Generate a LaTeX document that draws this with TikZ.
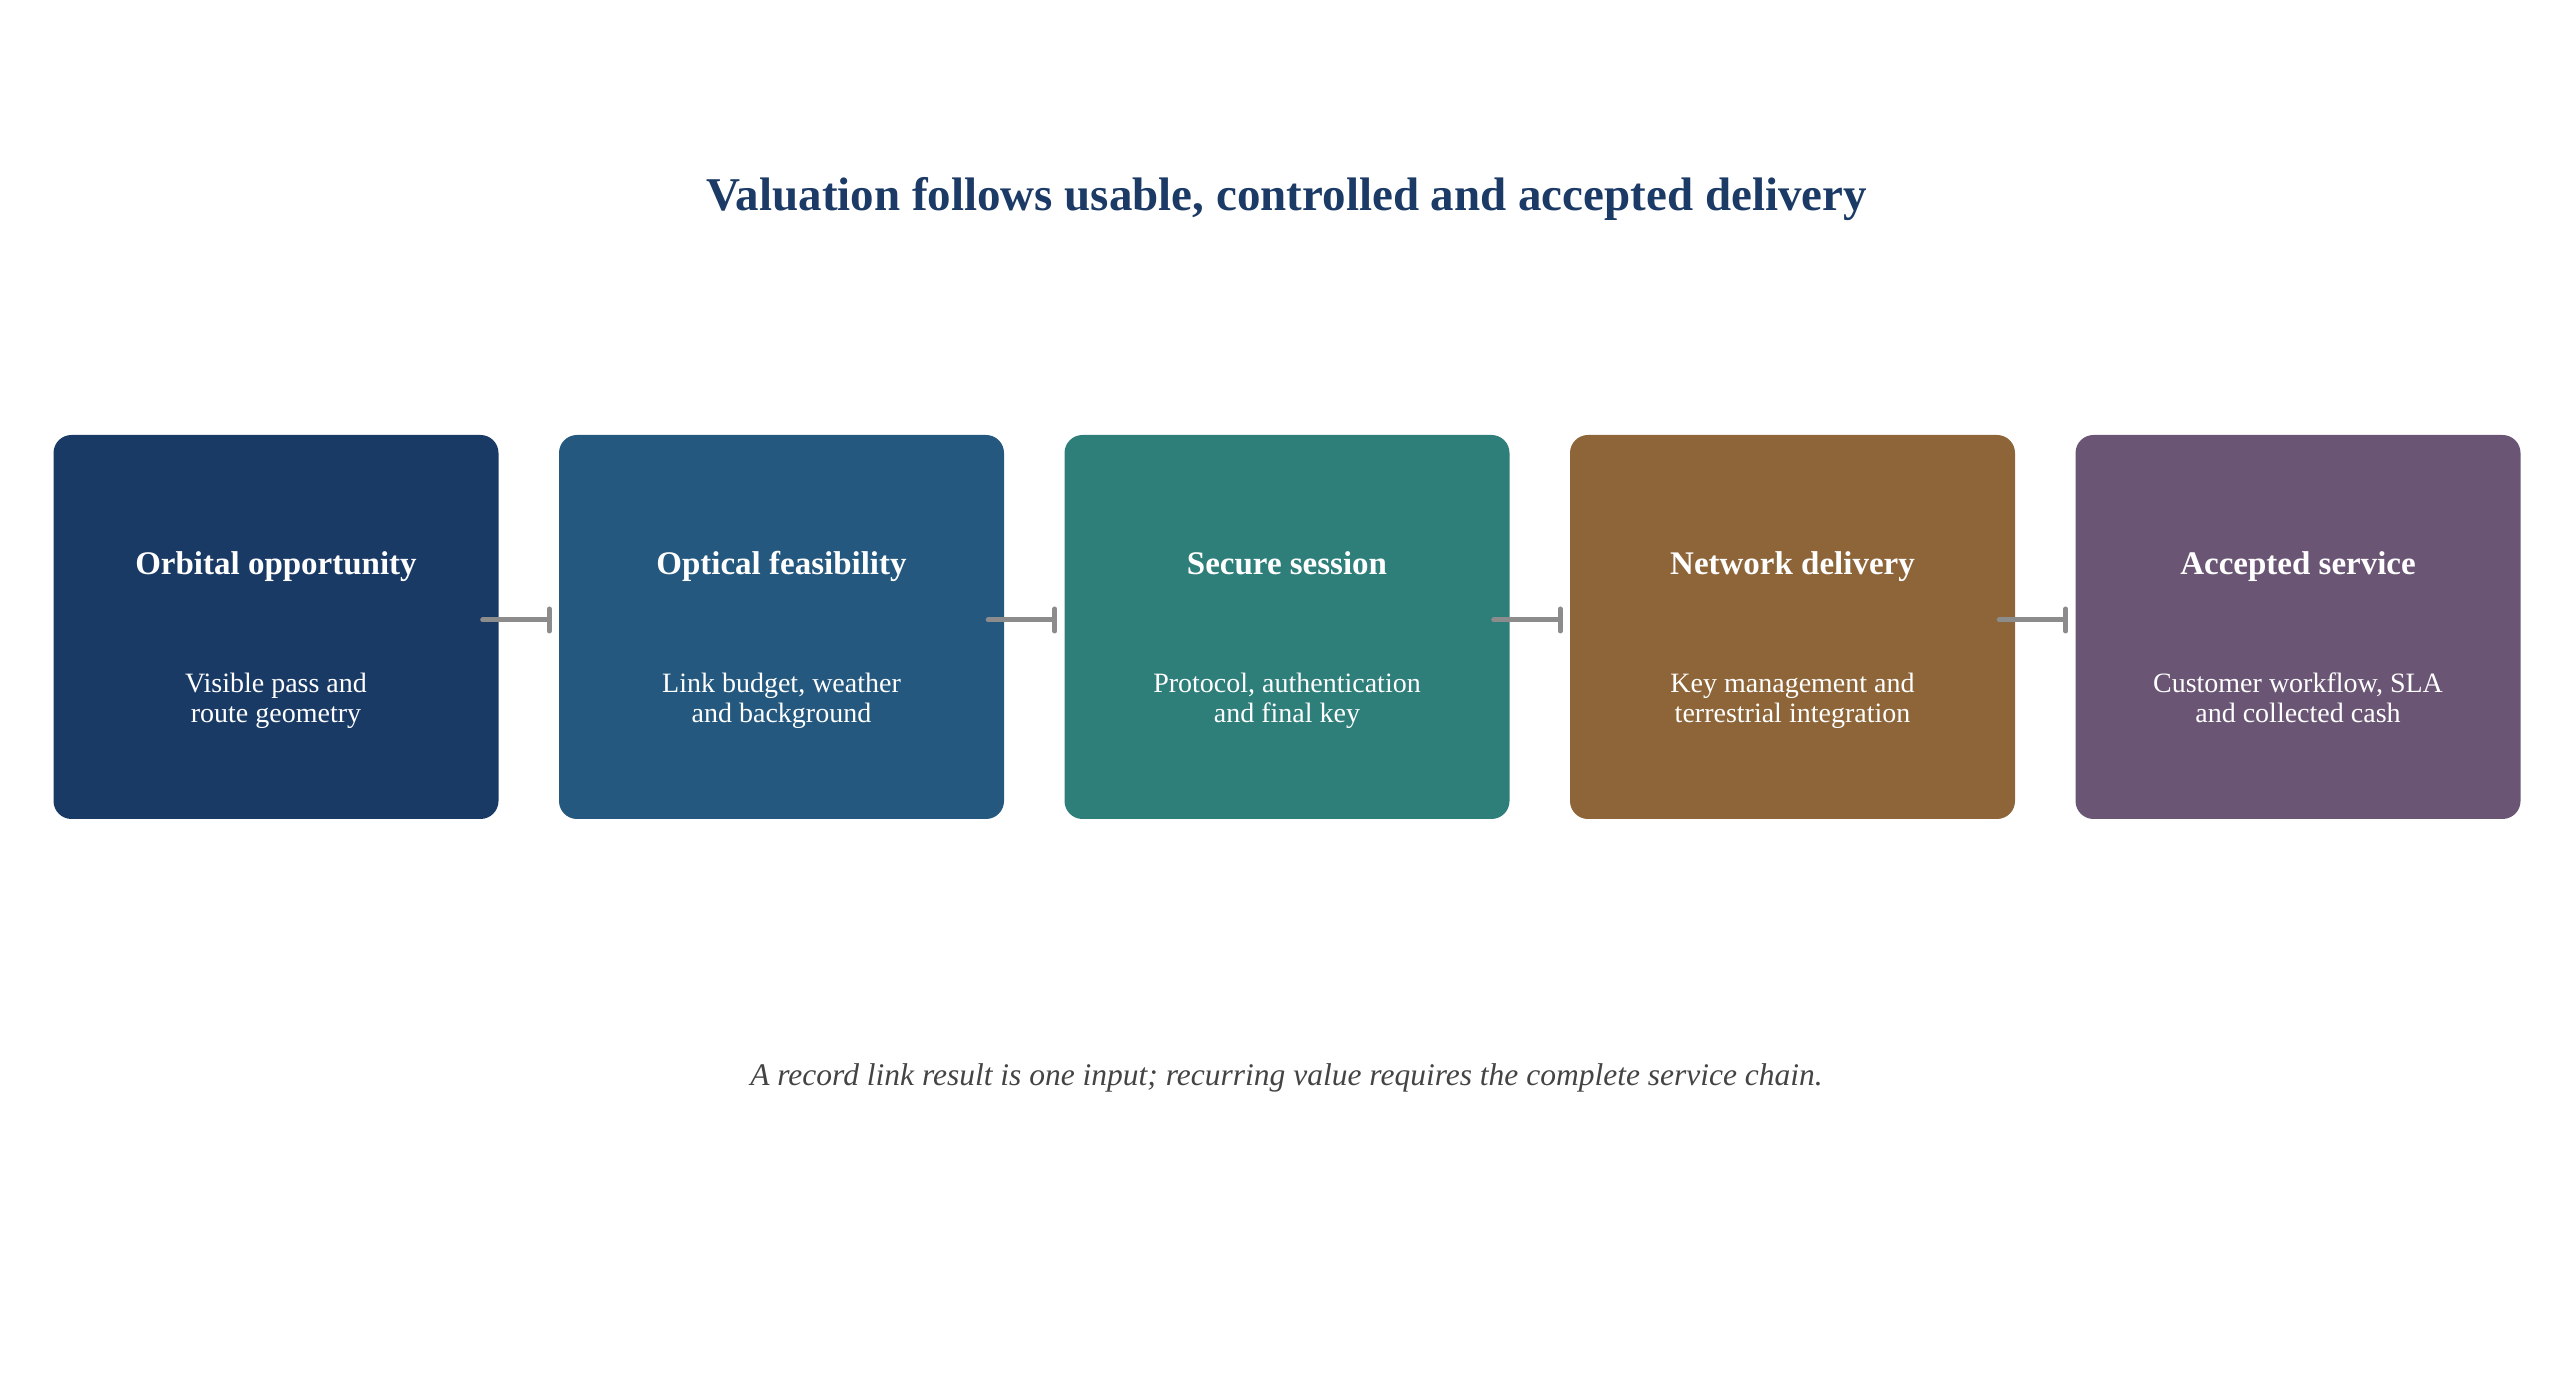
\documentclass[tikz,border=0pt]{standalone}
\usepackage{fontspec}
\setmainfont{Liberation Serif}
\usetikzlibrary{calc, arrows.meta}

\definecolor{titleblue}{HTML}{1B3A66}
\definecolor{boxA}{HTML}{1A3A66}
\definecolor{boxB}{HTML}{24587E}
\definecolor{boxC}{HTML}{2E7E7A}
\definecolor{boxD}{HTML}{8E6539}
\definecolor{boxE}{HTML}{6A5674}
\definecolor{linkgray}{HTML}{8C8C8C}
\definecolor{notegray}{HTML}{444444}

\tikzset{
  stagebox/.style={rectangle, rounded corners=18pt, minimum width=445pt, minimum height=384pt, inner sep=0pt},
  headtext/.style={text=white, font=\fontsize{33}{38}\selectfont\bfseries, align=center, text height=0.7em, text depth=0.25em},
  bodytext/.style={text=white, font=\fontsize{28}{30}\selectfont, align=center, text height=0.7em, text depth=0.25em},
  link/.style={draw=linkgray, line width=5pt, line cap=round, -{Bar[width=22pt, line width=5pt, round]}}
}

\begin{document}
\begin{tikzpicture}[x=1pt, y=1pt]

\newcommand{\xstart}{276}
\newcommand{\boxstep}{505.5}
\newcommand{\ymid}{746}
\newcommand{\headoff}{54.5}
\newcommand{\bodyoff}{93}

\useasboundingbox (0,0) rectangle (2573,1373);

\node [text=titleblue, font=\fontsize{47}{54}\selectfont\bfseries] (title) at (1286.5,1174) {Valuation follows usable, controlled and accepted delivery};

\foreach \i/\col/\head/\body in {
  1/boxA/Orbital opportunity/{Visible pass and\\route geometry},
  2/boxB/Optical feasibility/{Link budget, weather\\and background},
  3/boxC/Secure session/{Protocol, authentication\\and final key},
  4/boxD/Network delivery/{Key management and\\terrestrial integration},
  5/boxE/Accepted service/{Customer workflow, SLA\\and collected cash}}
{
\node [stagebox, fill=\col] (s\i) at ({\xstart+(\i-1)*\boxstep}, \ymid) {};
\node [headtext] (h\i) at ($(s\i.center)+(0,\headoff)$) {\head};
\node [bodytext] (b\i) at ($(s\i.center)+(0,-\bodyoff)$) {\body};
}

% links sit slightly above the middle
\foreach \i [evaluate=\i as \j using int(\i+1)] in {1,...,4}
{
\draw [link] ($(s\i.east)+(-16,7)$) -- ($(s\j.west)+(-7,7)$);
}

\node [text=notegray, font=\fontsize{31.5}{36}\selectfont\itshape] (note) at (1286.5,295) {A record link result is one input; recurring value requires the complete service chain.};

\end{tikzpicture}
\end{document}
